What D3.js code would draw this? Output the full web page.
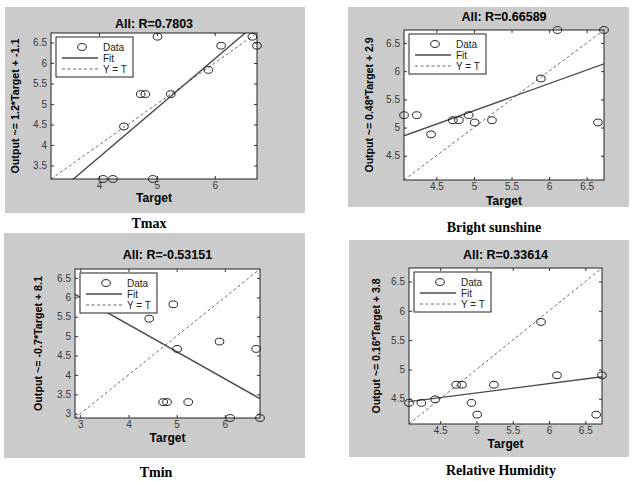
<!DOCTYPE html>
<html>
<head>
<meta charset="utf-8">
<script src="https://cdn.jsdelivr.net/npm/d3@7"></script>
<style>
  body { margin: 0; background: #fff; }
</style>
</head>
<body>
<svg id="chart" width="632" height="481" font-family="Liberation Sans, Arial, sans-serif"></svg>
<script>
// targets are shared by all four regressions
var targets = [4.07, 4.24, 4.43, 4.72, 4.80, 4.93, 5.01, 5.24, 5.89, 6.11, 6.65, 6.73];
var tmaxOut = [3.17, 3.17, 4.45, 5.24, 5.24, 3.17, 6.64, 5.24, 5.83, 6.42, 6.64, 6.42];
var sunOut  = [5.22, 5.22, 4.88, 5.13, 5.13, 5.22, 5.09, 5.13, 5.87, 6.73, 5.09, 6.73];
var tminOut = [null, null, 5.45, 3.30, 3.30, 5.82, 4.67, 3.30, 4.86, 2.89, 4.67, 2.89]; // first two hidden by legend
var humOut  = [4.43, 4.43, 4.49, 4.74, 4.74, 4.43, 4.23, 4.74, 5.81, 4.90, 4.23, 4.90];

var rValues = ['0.7803', '0.66589', '-0.53151', '0.33614'];
var fitSlopes = [1.2, 0.48, -0.7, 0.16];
var fitIntercepts = [-1.1, 2.9, 8.1, 3.8];
var captions = ['Tmax', 'Bright sunshine', 'Tmin', 'Relative Humidity'];
var xTicks = [[4, 5, 6], [4.5, 5, 5.5, 6, 6.5], [3, 4, 5, 6], [4.5, 5, 5.5, 6, 6.5]];
var yTicks = [[3.5, 4, 4.5, 5, 5.5, 6, 6.5], [4.5, 5, 5.5, 6, 6.5],
              [3, 3.5, 4, 4.5, 5, 5.5, 6, 6.5], [4.5, 5, 5.5, 6, 6.5]];
var outputs = [tmaxOut, sunOut, tminOut, humOut];

// page layout of each panel (gray frame, axes box, text anchors)
var layout = [
  { bg: [5, 7, 305, 213],   box: [51, 33, 257, 179],  titleY: 28,  xlabY: 202, ylabX: 19,  capX: 149, capY: 228 },
  { bg: [348, 7, 629, 207], box: [404, 30, 604, 180], titleY: 21,  xlabY: 205, ylabX: 373, capX: 494, capY: 232 },
  { bg: [4, 233, 305, 458], box: [75, 269, 260, 418], titleY: 259, xlabY: 442, ylabX: 42,  capX: 156, capY: 477 },
  { bg: [349, 240, 629, 457], box: [409, 268, 602, 424], titleY: 259, xlabY: 448, ylabX: 380, capX: 501, capY: 475 }
];

var svg = d3.select('#chart');
var fmt = d3.format('~g');

outputs.forEach(function(out, i) {
  var L = layout[i];
  var pts = targets.map(function(t, j) { return { t: t, y: out[j] }; })
    .filter(function(p) { return p.y !== null; });
  var lim = d3.extent(targets.concat(pts.map(function(p) { return p.y; })));

  var x = d3.scaleLinear().domain(lim).range([L.box[0], L.box[2]]);
  var y = d3.scaleLinear().domain(lim).range([L.box[3], L.box[1]]);
  var g = svg.append('g');

  g.append('rect')
    .attr('x', L.bg[0]).attr('y', L.bg[1])
    .attr('width', L.bg[2] - L.bg[0]).attr('height', L.bg[3] - L.bg[1])
    .attr('fill', '#cbcbcb');

  g.append('rect')
    .attr('x', L.box[0]).attr('y', L.box[1])
    .attr('width', L.box[2] - L.box[0]).attr('height', L.box[3] - L.box[1])
    .attr('fill', '#fff');

  g.append('clipPath').attr('id', 'clip' + i)
    .append('rect')
    .attr('x', L.box[0]).attr('y', L.box[1])
    .attr('width', L.box[2] - L.box[0]).attr('height', L.box[3] - L.box[1]);

  var lines = g.append('g').attr('clip-path', 'url(#clip' + i + ')');
  var line = d3.line().x(function(d) { return x(d[0]); }).y(function(d) { return y(d[1]); });

  // Y = T
  lines.append('path')
    .attr('d', line([[lim[0], lim[0]], [lim[1], lim[1]]]))
    .attr('fill', 'none').attr('stroke', '#6a6a6a').attr('stroke-width', 1)
    .attr('stroke-dasharray', '3,2.5');

  // fit
  var fitY = function(t) { return fitSlopes[i] * t + fitIntercepts[i]; };
  lines.append('path')
    .attr('d', line([[lim[0], fitY(lim[0])], [lim[1], fitY(lim[1])]]))
    .attr('fill', 'none').attr('stroke', '#4a4a4a').attr('stroke-width', 1.4);

  // axes: ticks pointing inward on all four sides
  var axes = [
    d3.axisBottom(x).tickValues(xTicks[i]).tickSizeInner(-3).tickSizeOuter(0).tickPadding(3).tickFormat(fmt),
    d3.axisLeft(y).tickValues(yTicks[i]).tickSizeInner(-3).tickSizeOuter(0).tickPadding(4).tickFormat(fmt),
    d3.axisTop(x).tickValues(xTicks[i]).tickSizeInner(-3).tickSizeOuter(0).tickFormat(''),
    d3.axisRight(y).tickValues(yTicks[i]).tickSizeInner(-3).tickSizeOuter(0).tickFormat('')
  ];
  var shifts = [[0, L.box[3]], [L.box[0], 0], [0, L.box[1]], [L.box[2], 0]];
  axes.forEach(function(ax, k) {
    var a = g.append('g')
      .attr('transform', 'translate(' + shifts[k][0] + ',' + shifts[k][1] + ')')
      .call(ax);
    a.select('.domain').remove();
    a.selectAll('line').attr('stroke', '#333');
    a.selectAll('text').attr('fill', '#3a3a3a').attr('font-size', 10)
      .attr('font-family', 'Liberation Sans, Arial, sans-serif');
  });

  g.append('rect')
    .attr('x', L.box[0]).attr('y', L.box[1])
    .attr('width', L.box[2] - L.box[0]).attr('height', L.box[3] - L.box[1])
    .attr('fill', 'none').attr('stroke', '#222').attr('stroke-width', 1);

  // data circles
  g.selectAll('ellipse.pt').data(pts).enter()
    .append('ellipse').attr('class', 'pt')
    .attr('cx', function(d) { return x(d.t); })
    .attr('cy', function(d) { return y(d.y); })
    .attr('rx', 4.3).attr('ry', 3.4)
    .attr('fill', 'none').attr('stroke', '#222').attr('stroke-width', 1);

  // legend
  var lx = L.box[0] + 5, ly = L.box[1] + 4;
  var leg = g.append('g').attr('transform', 'translate(' + lx + ',' + ly + ')');
  leg.append('rect').attr('width', 77).attr('height', 40)
    .attr('fill', '#fff').attr('stroke', '#222').attr('stroke-width', 1);
  leg.append('ellipse').attr('cx', 26).attr('cy', 10).attr('rx', 4.3).attr('ry', 3.4)
    .attr('fill', 'none').attr('stroke', '#222');
  leg.append('line').attr('x1', 6).attr('x2', 42).attr('y1', 21).attr('y2', 21)
    .attr('stroke', '#4a4a4a').attr('stroke-width', 1.4);
  leg.append('line').attr('x1', 6).attr('x2', 42).attr('y1', 32).attr('y2', 32)
    .attr('stroke', '#6a6a6a').attr('stroke-dasharray', '3,2.5');
  ['Data', 'Fit', 'Y = T'].forEach(function(s, k) {
    leg.append('text').attr('x', 47).attr('y', 10 + k * 11 + 3.5)
      .attr('font-size', 10).attr('fill', '#222').text(s);
  });

  var cx = (L.box[0] + L.box[2]) / 2, cy = (L.box[1] + L.box[3]) / 2;

  g.append('text').attr('x', cx).attr('y', L.titleY)
    .attr('text-anchor', 'middle').attr('font-size', 12.5).attr('font-weight', 'bold')
    .text('All: R=' + rValues[i]);

  g.append('text').attr('x', cx).attr('y', L.xlabY)
    .attr('text-anchor', 'middle').attr('font-size', 12).attr('font-weight', 'bold')
    .text('Target');

  g.append('text')
    .attr('transform', 'translate(' + L.ylabX + ',' + cy + ') rotate(-90)')
    .attr('text-anchor', 'middle').attr('font-size', 11.5).attr('font-weight', 'bold')
    .attr('textLength', 135).attr('lengthAdjust', 'spacingAndGlyphs')
    .text('Output ~= ' + fitSlopes[i] + '*Target + ' + fitIntercepts[i]);

  g.append('text').attr('x', L.capX).attr('y', L.capY)
    .attr('text-anchor', 'middle').attr('font-size', 14).attr('font-weight', 'bold')
    .attr('font-family', 'Liberation Serif, Times New Roman, serif')
    .text(captions[i]);
});
</script>
</body>
</html>
